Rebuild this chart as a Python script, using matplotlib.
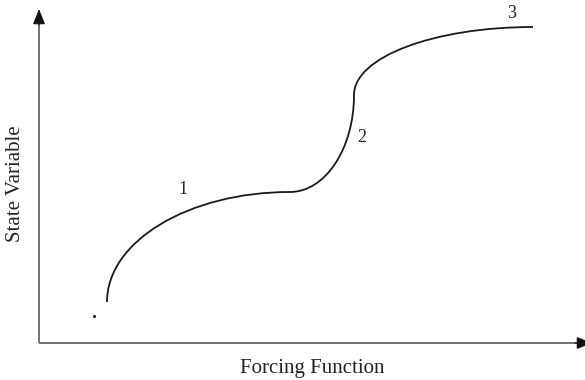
import matplotlib.pyplot as plt
from matplotlib.path import Path
from matplotlib.patches import PathPatch

# Bezier control points for the three regimes (forcing, state)
seg1_x = [68, 68, 150, 251]
seg1_y = [41, 102, 151, 151]
seg2_x = [251, 286, 315, 315]
seg2_y = [151, 151, 194, 248]
seg3_x = [315, 315, 395, 494]
seg3_y = [248, 286, 316, 316]

labels = ['1', '2', '3']
label_x = [144, 323, 473]
label_y = [153, 206, 330]

dot_x = [55]
dot_y = [27]

fig = plt.figure(figsize=(5.85, 3.8), dpi=100)
ax = fig.add_axes([0, 0, 1, 1])
ax.set_xlim(-39, 546)
ax.set_ylim(-37, 343)
ax.axis('off')

# axes: gray shafts, black arrow heads
ax.plot([0, 0], [0, 322], color='#666666', lw=1.3, solid_capstyle='butt')
ax.plot([0, 540], [0, 0], color='#666666', lw=1.3, solid_capstyle='butt')
head = dict(arrowstyle='-|>,head_length=0.95,head_width=0.38', color='#111111',
            lw=0.8, shrinkA=0, shrinkB=0)
ax.annotate('', xy=(0, 334), xytext=(0, 318), arrowprops=head)
ax.annotate('', xy=(553, 0), xytext=(536, 0), arrowprops=head, annotation_clip=False)

# curve
codes = [Path.MOVETO, Path.CURVE4, Path.CURVE4, Path.CURVE4]
for xs, ys in [(seg1_x, seg1_y), (seg2_x, seg2_y), (seg3_x, seg3_y)]:
    p = Path(list(zip(xs, ys)), codes)
    ax.add_patch(PathPatch(p, fill=False, lw=1.3, color='#1a1a1a', capstyle='butt'))

ax.plot(dot_x, dot_y, 'o', color='#1a1a1a', markersize=1.2)

for t, x, y in zip(labels, label_x, label_y):
    ax.text(x, y, t, fontsize=13, family='Liberation Serif', color='#222222',
            ha='center', va='center')

ax.text(273, -25, 'Forcing Function', fontsize=15, family='Liberation Serif',
        color='#222222', ha='center', va='center')
ax.text(-23, 159, 'State Variable', fontsize=15, family='Liberation Serif',
        color='#222222', ha='center', va='center', rotation=90)

fig.savefig('out.png', dpi=100)
